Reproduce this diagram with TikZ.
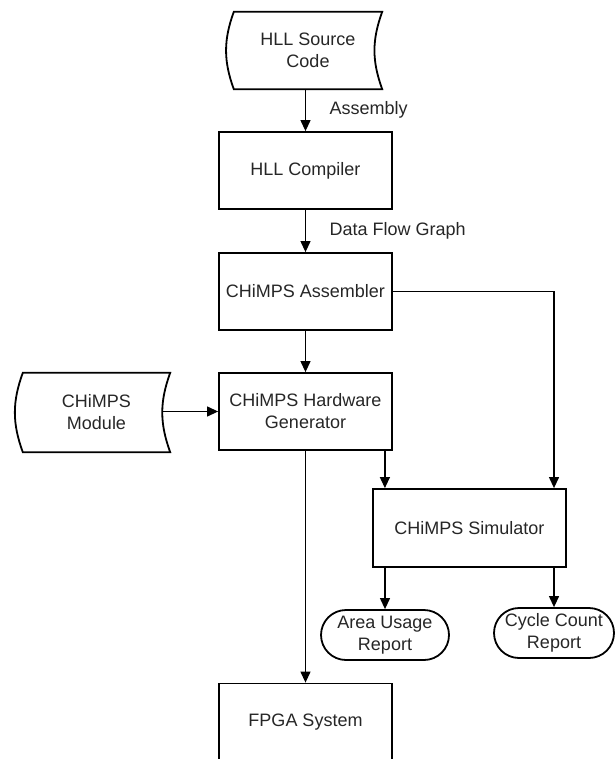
\documentclass[tikz,border=0pt]{standalone}
\usepackage{fontspec}
\setmainfont{Liberation Sans}
\usetikzlibrary{arrows.meta}
\tikzset{
	box/.style={draw, line width=1.8pt, minimum width=173pt, minimum height=77pt, align=center, text=black!85},
	datashape/.style={minimum width=148pt, minimum height=77pt, align=center, text=black!85},
	report/.style={draw, line width=1.8pt, rounded corners=25pt, minimum height=50pt, align=center, text=black!85},
	link/.style={line width=1.2pt, -{Triangle[length=11pt,width=10pt]}},
	lbl/.style={anchor=west, text=black!85}
}
\def\storeddata(#1){\draw[line width=1.8pt] (#1.north west) to[bend right=20] (#1.south west) -- (#1.south east) to[bend left=20] (#1.north east) -- cycle;}

\begin{document}
\begin{tikzpicture}[x=1pt, y=-1pt, font=\fontsize{18}{22}\selectfont]
		%%%%% START %%%%%
		\useasboundingbox (0, 0) rectangle (615, 759);
		\clip (0, 0) rectangle (615, 759);
		
		\node[datashape] (src) at (308, 50.5) {HLL Source\\Code};
		\storeddata(src)
		\node[box] (comp) at (305.5, 170.5) {HLL Compiler};
		\node[box] (asm) at (305.5, 291.5) {CHiMPS Assembler};
		\node[box] (hwg) at (305.5, 411.5) {CHiMPS Hardware\\Generator};
		
		\node[datashape, minimum width=147pt, minimum height=79pt] (mod) at (96.5, 412.5) {CHiMPS\\Module};
		\storeddata(mod)
		
		\node[box, minimum width=193pt, minimum height=78pt] (sim) at (469.5, 528) {CHiMPS Simulator};
		\node[report, minimum width=128pt] (area) at (385, 635) {Area Usage\\Report};
		\node[report, minimum width=120pt] (cycle) at (554, 633) {Cycle Count\\Report};
		\node[box] (fpga) at (305.5, 722) {FPGA System};
		
		\node[lbl] (asmlbl) at (326, 110) {Assembly};
		\node[lbl] (dfglbl) at (326, 231) {Data Flow Graph};
		
		\coordinate (modout) at ([xshift=-8pt]mod.east);
		\coordinate (hwgout) at ([xshift=-8pt]hwg.south east);
		
		\draw[link] (comp.north |- src.south) -- (comp.north);
		\draw[link] (comp) -- (asm);
		\draw[link] (asm) -- (hwg);
		\draw[link] (modout |- hwg.west) -- (hwg.west);
		\draw[link] (asm.east) -| (cycle.north |- sim.north);
		\draw[link] (hwgout) -- (hwgout |- sim.north);
		\draw[link] (hwg) -- (fpga);
		\draw[link] (area.north |- sim.south) -- (area.north);
		\draw[link] (cycle.north |- sim.south) -- (cycle.north);
		
		%%%%% END %%%%%
	\end{tikzpicture}
\end{document}
